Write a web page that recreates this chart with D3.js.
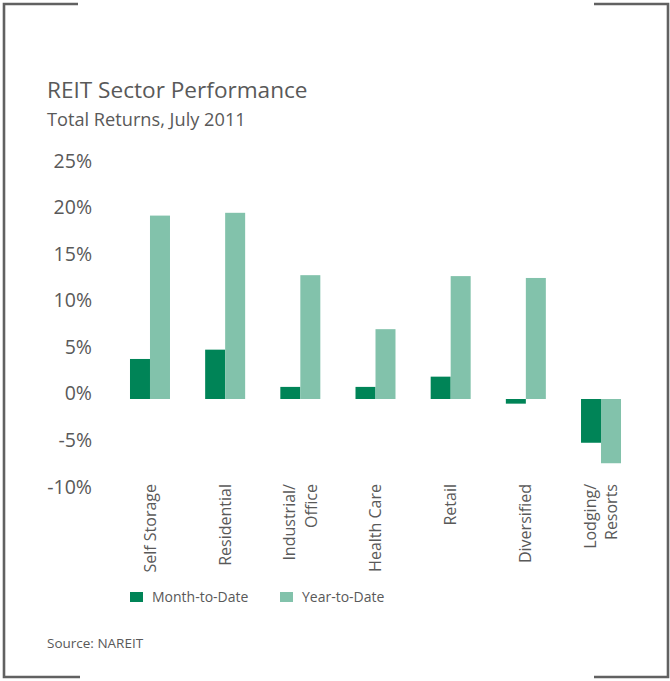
<!DOCTYPE html>
<html>
<head>
<meta charset="utf-8">
<script src="https://cdn.jsdelivr.net/npm/d3@7"></script>
<style>
  html, body { margin: 0; padding: 0; background: #fff; }
  svg { display: block; }
  text { font-family: "Open Sans", "Noto Sans", sans-serif; fill: #595959; }
</style>
</head>
<body>
<svg id="chart" width="670" height="681"></svg>
<script>
// Sector returns, July 2011 (percent)
const categories = ["Self Storage", "Residential", "Industrial/\nOffice", "Health Care", "Retail", "Diversified", "Lodging/\nResorts"];
const seriesNames = ["Month-to-Date", "Year-to-Date"];
const monthToDate = [4.3, 5.3, 1.3, 1.3, 2.4, -0.5, -4.7];
const yearToDate = [19.7, 20.0, 13.3, 7.5, 13.2, 13.0, -6.9];
const yTicks = [25, 20, 15, 10, 5, 0, -5, -10];
const colors = ["#008457", "#82c2ab"];

const svg = d3.select("#chart");

// Corner-bracket frame
const frame = svg.append("g").attr("stroke", "#616161").attr("stroke-width", 2.6).attr("fill", "none");
frame.append("path").attr("d", "M78,4 H4 V677 H80");
frame.append("path").attr("d", "M594,4 H668 V677 H594");

// Titles
svg.append("text").attr("x", 47).attr("y", 98).attr("font-size", 22.6).text("REIT Sector Performance");
svg.append("text").attr("x", 47).attr("y", 126).attr("font-size", 18.2).text("Total Returns, July 2011");

// Scales
const y = d3.scaleLinear().domain([-10, 25]).range([492.1, 166.25]);
const x0 = d3.scaleBand().domain(categories).range([112.4, 638.6]).paddingInner(0.468).paddingOuter(0.234);
const x1 = d3.scaleBand().domain(seriesNames).range([0, x0.bandwidth()]);

// Y axis labels
const yAxis = d3.axisLeft(y).tickValues(yTicks).tickSize(0).tickPadding(0).tickFormat(d => d + "%");
const yg = svg.append("g").attr("transform", "translate(92,0)").call(yAxis);
yg.select(".domain").remove();
yg.selectAll("text")
  .attr("font-size", 19.5)
  .attr("font-family", "'Open Sans', sans-serif")
  .attr("fill", "#595959")
  .attr("dy", "0.05em");

// Bars
const rows = categories.map((c, i) => ({ cat: c, values: [monthToDate[i], yearToDate[i]] }));
const groups = svg.append("g").selectAll("g").data(rows).join("g")
  .attr("transform", d => `translate(${x0(d.cat)},0)`);
groups.selectAll("rect")
  .data(d => d.values.map((v, j) => ({ v, s: seriesNames[j], j })))
  .join("rect")
  .attr("x", d => x1(d.s))
  .attr("width", x1.bandwidth())
  .attr("y", d => y(Math.max(0, d.v)))
  .attr("height", d => Math.abs(y(d.v) - y(0)))
  .attr("fill", d => colors[d.j]);

// Category labels, rotated
const xl = svg.append("g").selectAll("text").data(categories).join("text")
  .attr("transform", d => `translate(${x0(d) + x0.bandwidth() / 2},484) rotate(-90)`)
  .attr("text-anchor", "end")
  .attr("font-size", 16);
xl.each(function(d) {
  const lines = d.split("\n");
  const t = d3.select(this);
  const lh = 1.35;
  lines.forEach((ln, i) => {
    t.append("tspan").attr("x", 0)
      .attr("dy", i === 0 ? (0.35 - (lines.length - 1) * lh / 2) + "em" : lh + "em")
      .text(ln);
  });
});

// Legend
const legendX = [130, 280];
const lg = svg.append("g").selectAll("g").data(seriesNames).join("g")
  .attr("transform", (d, i) => `translate(${legendX[i]},592)`);
lg.append("rect").attr("width", 13).attr("height", 10).attr("fill", (d, i) => colors[i]);
lg.append("text").attr("x", 22).attr("y", 10).attr("font-size", 14).text(d => d);

// Source
svg.append("text").attr("x", 47).attr("y", 648).attr("font-size", 13.5).text("Source: NAREIT");
</script>
</body>
</html>
